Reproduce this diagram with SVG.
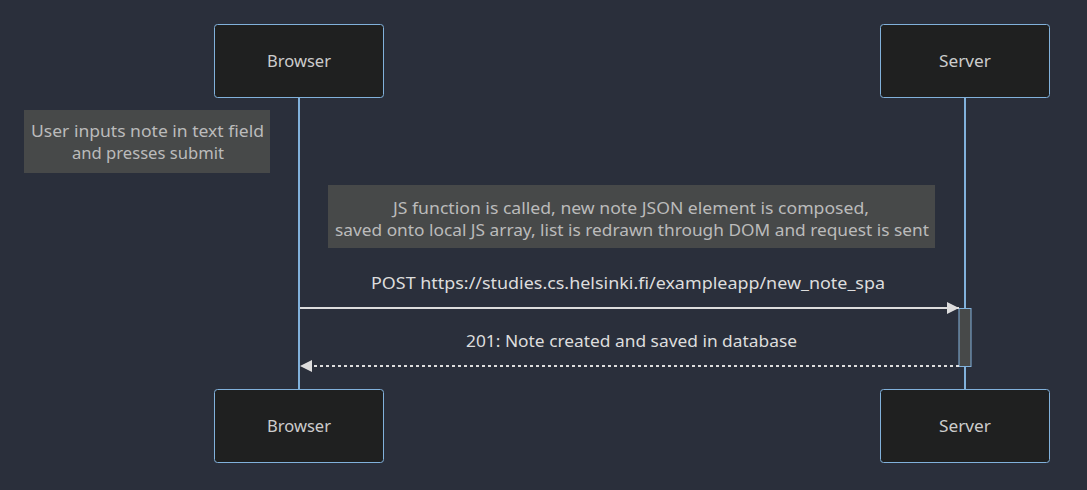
<svg xmlns="http://www.w3.org/2000/svg" width="1087" height="490" viewBox="0 0 1087 490">
<defs>
<style>
text{font-family:"Noto Sans","Open Sans","Liberation Sans",sans-serif;font-size:16px;text-anchor:middle;dominant-baseline:central}
.actor{fill:#1f2020;stroke:#81b1db;stroke-width:1}
.atext{fill:#ccc}
.note{fill:#474949;stroke:#474949}
.ntext{fill:#bbb}
.mtext{fill:#ddd}
.life{stroke:#81b1db;stroke-width:2}
.msg{stroke:#ddd;stroke-width:2;fill:none}
</style>
<marker id="arrow" viewBox="0 0 12 12" refX="12" refY="6" markerWidth="12" markerHeight="12" markerUnits="userSpaceOnUse" orient="auto">
<path d="M0,0 L12,6 L0,12 z" fill="#ddd"/>
</marker>
</defs>
<rect width="1087" height="490" fill="#2a2f3b"/>
<g id="lifelines">
<line class="life" x1="299" y1="98" x2="299" y2="389"/>
<line class="life" x1="965" y1="98" x2="965" y2="389"/>
</g>
<g id="browser-top"><rect class="actor" x="214.5" y="24.5" width="169" height="73" rx="3"/><text class="atext" x="299" y="61" textLength="64" lengthAdjust="spacingAndGlyphs">Browser</text></g>
<g id="server-top"><rect class="actor" x="880.5" y="24.5" width="169" height="73" rx="3"/><text class="atext" x="965" y="61" textLength="52" lengthAdjust="spacingAndGlyphs">Server</text></g>
<g id="browser-bottom"><rect class="actor" x="214.5" y="389.5" width="169" height="73" rx="3"/><text class="atext" x="299" y="426" textLength="64" lengthAdjust="spacingAndGlyphs">Browser</text></g>
<g id="server-bottom"><rect class="actor" x="880.5" y="389.5" width="169" height="73" rx="3"/><text class="atext" x="965" y="426" textLength="52" lengthAdjust="spacingAndGlyphs">Server</text></g>
<g id="note1"><rect class="note" x="24.5" y="110.5" width="245" height="62"/><text class="ntext" x="147.5" y="131" textLength="233" lengthAdjust="spacingAndGlyphs">User inputs note in text field</text><text class="ntext" x="148" y="153" textLength="152" lengthAdjust="spacingAndGlyphs">and presses submit</text></g>
<g id="note2"><rect class="note" x="328.5" y="185.5" width="606" height="62"/><text class="ntext" x="631" y="208" textLength="476" lengthAdjust="spacingAndGlyphs">JS function is called, new note JSON element is composed,</text><text class="ntext" x="632" y="230" textLength="594" lengthAdjust="spacingAndGlyphs">saved onto local JS array, list is redrawn through DOM and request is sent</text></g>
<g id="activation"><rect x="959" y="308.5" width="12" height="58" fill="#474949" stroke="#81b1db" stroke-width="1"/></g>
<g id="connectors">
<line class="msg" x1="300" y1="308" x2="959" y2="308" marker-end="url(#arrow)"/>
<text class="mtext" x="628" y="283" textLength="514" lengthAdjust="spacingAndGlyphs">POST https://studies.cs.helsinki.fi/exampleapp/new_note_spa</text>
<line class="msg" x1="959" y1="366" x2="300" y2="366" stroke-dasharray="3,3" marker-end="url(#arrow)"/>
<text class="mtext" x="631.5" y="341" textLength="331" lengthAdjust="spacingAndGlyphs">201: Note created and saved in database</text>
</g>
</svg>
